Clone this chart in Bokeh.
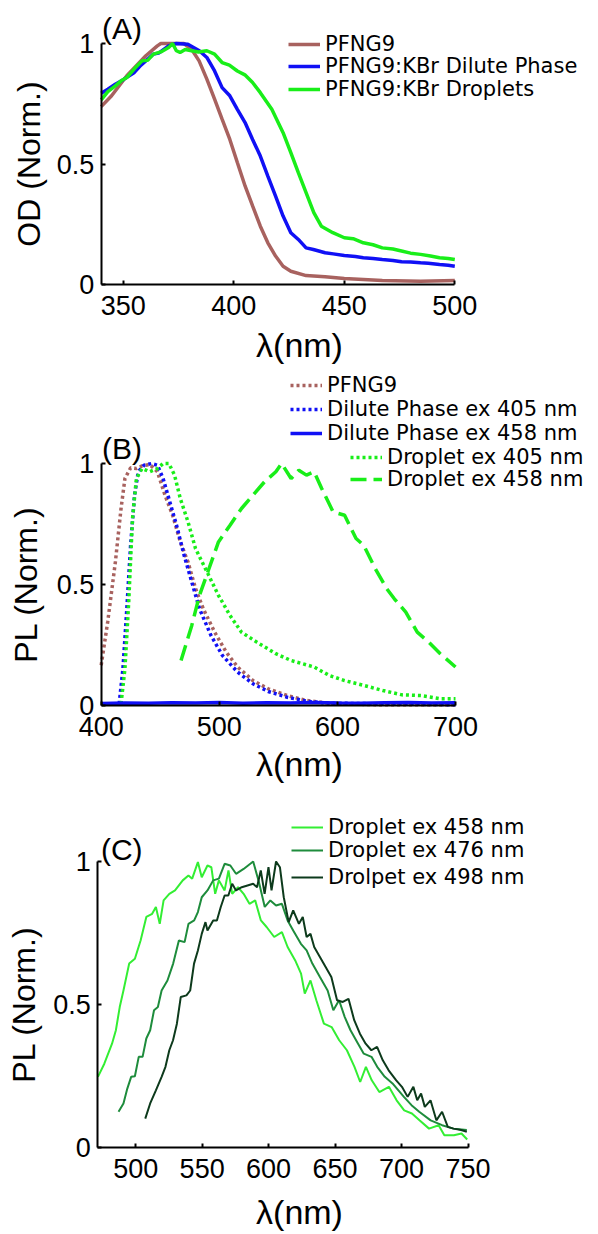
from bokeh.plotting import figure
from bokeh.models import Range1d, FixedTicker, Legend, LegendItem, Label
from bokeh.layouts import column
from bokeh.embed import file_html
from bokeh.resources import INLINE

# ---------------- Panel A data (absorption) ----------------
a_pfng9_x = [340, 344.7, 351.6, 360.2, 365.4, 367, 372, 377.4, 380.9, 384.3, 387.8, 391.3, 394.7, 398.2,
             401.6, 405.1, 408.5, 412, 415.4, 418.9, 422.3, 425.8, 432.7, 441.3, 450, 467.2, 484.5, 500]
a_pfng9_y = [0.738, 0.783, 0.866, 0.949, 0.99, 1.0, 1.0, 1.0, 0.976, 0.928, 0.852, 0.769, 0.686, 0.602,
             0.506, 0.409, 0.326, 0.242, 0.173, 0.118, 0.076, 0.055, 0.037, 0.032, 0.025, 0.017, 0.014, 0.017]

a_dil_x = [340, 343, 346.4, 350, 355, 358, 363.6, 366, 370.5, 374, 379.2, 384.4, 387.8, 391.3, 394.7, 398.2,
           401.6, 405.1, 408.5, 412, 415.4, 418.9, 422.3, 425.8, 429.2, 432.7, 436, 441.3, 445, 450, 455,
           458.6, 463, 467.2, 472, 475.9, 480, 484.5, 488, 493.1, 497, 500]
a_dil_y = [0.794, 0.81, 0.831, 0.85, 0.88, 0.91, 0.956, 0.96, 0.99, 1.0, 0.997, 0.97, 0.942, 0.886, 0.817, 0.783,
           0.727, 0.672, 0.602, 0.533, 0.45, 0.367, 0.284, 0.215, 0.187, 0.152, 0.145, 0.132, 0.127, 0.12, 0.116,
           0.111, 0.108, 0.104, 0.1, 0.094, 0.093, 0.09, 0.088, 0.083, 0.08, 0.076]

a_drop_x = [340, 343, 346.4, 349, 351.6, 355, 358.5, 361, 363.6, 367, 370.5, 372.3, 374, 375.7, 378, 380.9,
            384, 387.8, 391.3, 394.7, 398, 401.6, 405, 408.5, 412, 417.2, 422.3, 425.8, 429.2, 432.7, 436.2,
            439.6, 444.8, 450, 454, 458.6, 463, 467.2, 472, 475.9, 480, 484.5, 489, 493.1, 497, 500]
a_drop_y = [0.766, 0.8, 0.824, 0.845, 0.859, 0.895, 0.928, 0.93, 0.956, 0.965, 0.983, 1.0, 0.97, 0.963, 0.975,
            0.97, 0.965, 0.97, 0.956, 0.921, 0.91, 0.886, 0.87, 0.838, 0.796, 0.727, 0.63, 0.547, 0.464, 0.381,
            0.298, 0.242, 0.215, 0.194, 0.19, 0.173, 0.165, 0.152, 0.147, 0.139, 0.13, 0.125, 0.118, 0.111,
            0.108, 0.104]

# ---------------- Panel B data (PL) ----------------
b_pfng9_x = [400, 405.5, 412, 416.8, 420.1, 424.9, 429.8, 434.6, 441.1, 447.6, 454, 460.5, 467, 473.5, 479.9,
             486.4, 496.1, 505.8, 515.5, 528.5, 541.4, 557.6, 573.8, 590, 606.1, 638.5, 700]
b_pfng9_y = [0.166, 0.345, 0.593, 0.814, 0.938, 0.982, 0.979, 0.99, 0.996, 0.966, 0.869, 0.786, 0.676, 0.593,
             0.483, 0.4, 0.303, 0.221, 0.159, 0.103, 0.069, 0.041, 0.021, 0.011, 0.006, 0.003, 0.003]

b_dil405_x = [415.2, 418.4, 421.7, 424.9, 428.2, 431.4, 436.3, 442.7, 447.6, 452.4, 457.3, 463.8, 470.2, 476.7,
              483.2, 492.9, 502.6, 515.5, 528.5, 541.4, 557.6, 573.8, 590, 700]
b_dil405_y = [0.007, 0.152, 0.4, 0.662, 0.869, 0.966, 0.993, 1.0, 0.993, 0.938, 0.855, 0.745, 0.621, 0.51,
              0.4, 0.29, 0.207, 0.138, 0.09, 0.058, 0.034, 0.018, 0.01, 0.003]

b_dil458_x = [400, 420, 440, 460, 480, 500, 520, 540, 560, 580, 600, 620, 640, 660, 680, 700]
b_dil458_y = [0.008, 0.010, 0.009, 0.011, 0.010, 0.012, 0.009, 0.011, 0.010, 0.012, 0.010, 0.009, 0.011, 0.012,
              0.010, 0.011]

b_drop405_x = [416.8, 420.1, 423.3, 426.5, 429.8, 434.6, 441.1, 447.6, 452.4, 457.3, 462.1, 467, 473.5, 479.9,
               489.6, 499.3, 509.1, 518.8, 531.7, 547.9, 560.8, 580.3, 593.2, 606.1, 622.3, 638.5, 654.7,
               670.9, 687.1, 700]
b_drop405_y = [0.007, 0.152, 0.428, 0.772, 0.938, 0.979, 0.966, 0.979, 1.0, 1.0, 0.952, 0.855, 0.759, 0.648,
               0.552, 0.455, 0.372, 0.303, 0.262, 0.214, 0.186, 0.159, 0.124, 0.103, 0.083, 0.062, 0.044,
               0.041, 0.028, 0.028]

b_drop458_x = [467.6, 476.7, 483.2, 491.3, 499.3, 509.1, 518.8, 528.5, 538.2, 547.9, 552.8, 560.8, 567.3,
               573.8, 580.3, 586.7, 596.4, 606.1, 615.8, 622.3, 632, 641.7, 648.2, 657.9, 667.6, 677.3,
               687.1, 700]
b_drop458_y = [0.186, 0.331, 0.455, 0.566, 0.676, 0.745, 0.814, 0.869, 0.924, 0.966, 1.0, 0.938, 0.972,
               0.952, 0.966, 0.897, 0.8, 0.786, 0.69, 0.662, 0.566, 0.483, 0.441, 0.386, 0.303, 0.262,
               0.214, 0.159]

# ---------------- Panel C data (PL, droplets) ----------------
c_458_x = [471.6, 476.4, 482.2, 485.1, 488, 490.8, 495.1, 499.4, 503.7, 508, 512.4, 515.2, 518.1, 521, 525.3,
           529.6, 535.4, 539.7, 542.5, 546.8, 549.7, 554, 556.9, 559.8, 562.6, 566.9, 569.8, 572.6, 577,
           581.2, 585.6, 589.9, 594.2, 598.5, 604.2, 610, 614.3, 620, 624.4, 627.2, 631.5, 635.9, 641.6,
           647.4, 653.1, 658.9, 664.6, 668.9, 673.2, 677.6, 683.3, 690.5, 696.3, 702, 707.8, 713.5, 720.7,
           727.9, 732.2, 739.4, 745.1, 749.4]
c_458_y = [0.247, 0.293, 0.363, 0.41, 0.491, 0.549, 0.643, 0.66, 0.724, 0.806, 0.817, 0.841, 0.782, 0.864,
           0.887, 0.899, 0.934, 0.951, 0.94, 0.998, 0.945, 0.986, 0.98, 0.887, 0.934, 0.899, 0.969, 0.887,
           0.91, 0.887, 0.852, 0.864, 0.794, 0.771, 0.736, 0.753, 0.701, 0.654, 0.608, 0.538, 0.584, 0.515,
           0.433, 0.421, 0.375, 0.34, 0.282, 0.229, 0.282, 0.235, 0.194, 0.212, 0.165, 0.13, 0.119, 0.095,
           0.066, 0.078, 0.043, 0.043, 0.049, 0.028]

c_476_x = [487.1, 490.8, 493.7, 496.6, 499.4, 502.3, 505.2, 508, 510.9, 513.8, 516.7, 519.5, 523.9, 528.2,
           532.5, 536.8, 539.7, 544, 546.8, 549.7, 554, 558.3, 562.6, 566.9, 571.2, 575.5, 581.2, 588.4,
           592.7, 597.1, 601.3, 605.6, 610, 614.3, 618.5, 624.3, 628.6, 632.9, 638.6, 644.4, 648.7, 653,
           657.3, 661.6, 667.3, 671.6, 677.4, 681.7, 687.4, 693.2, 701.8, 707.5, 713.3, 721.9, 730.5,
           739.1, 749.1]
c_476_y = [0.125, 0.154, 0.206, 0.247, 0.249, 0.317, 0.317, 0.381, 0.41, 0.48, 0.491, 0.549, 0.584, 0.643,
           0.724, 0.718, 0.782, 0.794, 0.823, 0.875, 0.899, 0.934, 0.94, 0.992, 0.986, 0.957, 0.974, 1.0,
           0.928, 0.841, 0.864, 0.846, 0.852, 0.794, 0.759, 0.712, 0.689, 0.643, 0.596, 0.549, 0.48, 0.515,
           0.456, 0.41, 0.363, 0.328, 0.317, 0.282, 0.247, 0.224, 0.177, 0.148, 0.125, 0.095, 0.078, 0.066,
           0.061]

c_498_x = [507.2, 510.9, 515.2, 519.5, 522.4, 525.3, 528.1, 531, 533.9, 538.2, 541, 543.9, 546.8, 549.7,
           552.5, 554, 558.3, 561.1, 564, 566.9, 569.7, 572.6, 575.5, 579.8, 584.1, 588.4, 591.3, 594.1,
           597, 599.9, 602.2, 605.6, 608.5, 611.4, 615.1, 618.5, 622.8, 625.7, 628.6, 631.5, 634.3, 638.6,
           642.9, 647.2, 651.5, 655.8, 660.1, 664.4, 668.7, 673, 677.3, 681.6, 685.9, 690.3, 696, 700.3,
           704.6, 708.9, 711.8, 714.7, 717.5, 721.8, 726.2, 730.5, 734.8, 739.1, 744.8, 749.1]
c_498_y = [0.101, 0.154, 0.2, 0.247, 0.282, 0.34, 0.375, 0.433, 0.526, 0.532, 0.549, 0.643, 0.689, 0.747,
           0.788, 0.759, 0.794, 0.794, 0.841, 0.881, 0.881, 0.922, 0.899, 0.91, 0.916, 0.922, 0.91, 0.969,
           0.887, 0.98, 0.899, 1.0, 0.98, 0.875, 0.788, 0.829, 0.782, 0.806, 0.736, 0.747, 0.701, 0.666,
           0.631, 0.596, 0.515, 0.509, 0.52, 0.445, 0.398, 0.363, 0.34, 0.352, 0.305, 0.27, 0.235, 0.212,
           0.177, 0.212, 0.165, 0.189, 0.142, 0.165, 0.095, 0.125, 0.072, 0.066, 0.061, 0.055]

# ---------------- texts ----------------
a_labels = ["PFNG9", "PFNG9:KBr Dilute Phase", "PFNG9:KBr Droplets"]
b_labels = ["PFNG9", "Dilute Phase ex 405 nm", "Dilute Phase ex 458 nm", "Droplet ex 405 nm", "Droplet ex 458 nm"]
c_labels = ["Droplet ex 458 nm", "Droplet ex 476 nm", "Drolpet ex 498 nm"]
x_title = "λ(nm)"
a_ytitle = "OD (Norm.)"
bc_ytitle = "PL (Norm.)"
a_xticks = [350, 400, 450, 500]
b_xticks = [400, 500, 600, 700]
c_xticks = [500, 550, 600, 650, 700, 750]
y_ticks = [0, 0.5, 1]

FONT = "Liberation Sans"
LEG_FONT = "DejaVu Sans"
LEG_FS = 21
ITEM_H = 32   # legend row box height (glyph/label height, larger than the text)
BROWN = "#a8625f"
BLUE = "#1010f5"
GREEN = "#19ee19"
C1, C2, C3 = "#33ee33", "#1e8c3c", "#0d3a1c"
W = 598


def make_fig(H, xlim, xticks, box, ylabel, ylab_standoff, xlab_y):
    # box = (left, top, right, bottom) pixel position of the data area inside the figure
    left, top, right, bottom = box
    x0, x1 = xlim
    sx = (right - left) / (x1 - x0)
    sy = (bottom - top) / 1.0
    xr = Range1d(x0 - left / sx, x1 + (W - right) / sx)
    yr = Range1d(0 - (H - bottom) / sy, 1 + top / sy)
    p = figure(width=W, height=H, output_backend="svg", toolbar_location=None, title=None,
               x_range=xr, y_range=yr,
               min_border_left=0, min_border_right=0, min_border_top=0, min_border_bottom=0)
    p.outline_line_color = None
    p.xgrid.visible = False
    p.ygrid.visible = False
    p.background_fill_color = "white"
    p.border_fill_color = "white"
    p.xaxis.ticker = FixedTicker(ticks=xticks)
    p.yaxis.ticker = FixedTicker(ticks=y_ticks)
    p.yaxis.major_label_overrides = {0: "0", 0.5: "0.5", 1: "1"}
    p.xaxis.fixed_location = 0
    p.yaxis.fixed_location = x0
    p.xaxis.bounds = (x0, x1)
    p.yaxis.bounds = (0, 1)
    for ax in (p.xaxis[0], p.yaxis[0]):
        ax.axis_line_width = 2
        ax.axis_line_color = "black"
        ax.major_tick_in = 4
        ax.major_tick_out = 0
        ax.major_tick_line_width = 2
        ax.minor_tick_in = 0
        ax.minor_tick_out = 0
        ax.major_label_text_font = FONT
        ax.major_label_text_font_size = "27px"
        ax.major_label_text_color = "black"
        ax.axis_label_text_font = FONT
        ax.axis_label_text_font_style = "normal"
        ax.axis_label_text_color = "black"
    p.yaxis.axis_label_text_font_size = "32px"
    p.xaxis.major_label_standoff = 11
    p.yaxis.major_label_standoff = 7
    p.yaxis.axis_label = ylabel
    p.yaxis.axis_label_standoff = ylab_standoff
    # x title, centred on the page as in the reference
    p.add_layout(Label(x=W / 2, y=H - xlab_y, x_units="screen", y_units="screen", text=x_title,
                       text_font=FONT, text_font_size="34px", text_align="center",
                       text_baseline="middle", text_color="black"))
    return p


def add_legend(p, H, label, renderer, x, center):
    # one legend per row, so the rows can sit as close as in the reference
    lg = Legend(items=[LegendItem(label=label, renderers=[renderer])],
                location=(x, H - (center + ITEM_H / 2)), padding=0, margin=0, spacing=0,
                border_line_color=None, background_fill_alpha=0, glyph_width=32, glyph_height=ITEM_H,
                label_height=ITEM_H, label_standoff=5, label_text_font=LEG_FONT,
                label_text_font_size=f"{LEG_FS}px", label_text_color="black")
    p.add_layout(lg, "center")
    return lg


def add_tag(p, H, text, x, yc):
    p.add_layout(Label(x=x, y=H - yc, x_units="screen", y_units="screen", text=text, text_font=FONT,
                       text_font_size="30px", text_baseline="middle", text_color="black"))


# ---------------- Panel A (page y 0..367) ----------------
HA = 367
pA = make_fig(HA, (340, 500), a_xticks, (100.7, 43, 454.3, 284), a_ytitle, 7, 344)
rA1 = pA.line(a_pfng9_x, a_pfng9_y, line_color=BROWN, line_width=3.5)
rA2 = pA.line(a_dil_x, a_dil_y, line_color=BLUE, line_width=3.5)
rA3 = pA.line(a_drop_x, a_drop_y, line_color=GREEN, line_width=3.5)
for lab, r, yc in zip(a_labels, [rA1, rA2, rA3], [43.5, 66, 88.5]):
    add_legend(pA, HA, lab, r, 288, yc)
add_tag(pA, HA, "(A)", 101.5, 27.5)

# ---------------- Panel B (page y 367..790) ----------------
HB = 423
OB = 367
pB = make_fig(HB, (400, 700), b_xticks, (100.7, 463 - OB, 455, 705 - OB), bc_ytitle, 10, 763 - OB)
rB1 = pB.line(b_pfng9_x, b_pfng9_y, line_color=BROWN, line_width=3.5, line_dash="3 3")
rB2 = pB.line(b_dil405_x, b_dil405_y, line_color=BLUE, line_width=3.5, line_dash="3 3")
rB4 = pB.line(b_drop405_x, b_drop405_y, line_color=GREEN, line_width=3.5, line_dash="3 3")
rB5 = pB.line(b_drop458_x, b_drop458_y, line_color=GREEN, line_width=3.5, line_dash="16 7")
rB3 = pB.line(b_dil458_x, b_dil458_y, line_color=BLUE, line_width=3.5)
for lab, r, xx, yc in zip(b_labels, [rB1, rB2, rB3, rB4, rB5], [290, 290, 290, 350, 350],
                          [385, 409, 433, 457, 479]):
    add_legend(pB, HB, lab, r, xx, yc - OB)
add_tag(pB, HB, "(B)", 101.5, 448 - OB)

# ---------------- Panel C (page y 790..1234) ----------------
HC = 444
OC = 790
pC = make_fig(HC, (471.5, 750), c_xticks, (97.3, 861 - OC, 467.5, 1147 - OC), bc_ytitle, 8, 1211 - OC)
rC1 = pC.line(c_458_x, c_458_y, line_color=C1, line_width=2)
rC2 = pC.line(c_476_x, c_476_y, line_color=C2, line_width=2)
rC3 = pC.line(c_498_x, c_498_y, line_color=C3, line_width=2)
for lab, r, yc in zip(c_labels, [rC1, rC2, rC3], [827, 850, 877]):
    add_legend(pC, HC, lab, r, 291, yc - OC)
add_tag(pC, HC, "(C)", 100.4, 849 - OC)

layout = column(pA, pB, pC, spacing=0)
open("out.html", "w").write(file_html(layout, INLINE))
